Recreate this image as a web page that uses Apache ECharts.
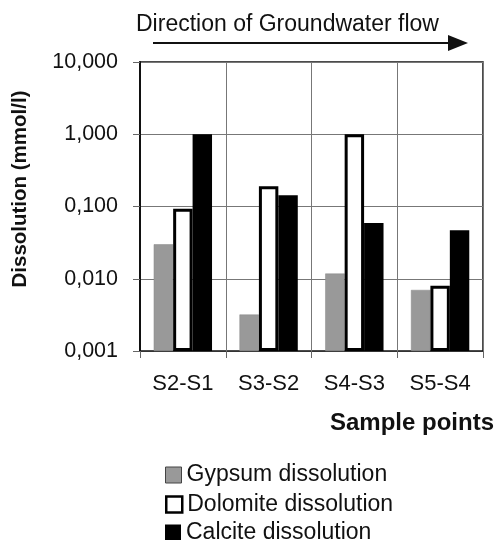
<!DOCTYPE html>
<html>
<head>
<meta charset="utf-8">
<script src="https://cdn.jsdelivr.net/npm/echarts@6/dist/echarts.min.js"></script>
<style>
  html, body { margin: 0; padding: 0; background: #fff; }
</style>
</head>
<body>
<div id="chart" style="width: 499px; height: 540px;"></div>
<script>
// sample point pairs
const categories = ['S2-S1', 'S3-S2', 'S4-S3', 'S5-S4']
// dissolution values (mmol/l)
const gypsum = [0.030, 0.0032, 0.0118, 0.0070]
const dolomite = [0.093, 0.19, 1.0, 0.008]
const calcite = [1.0, 0.143, 0.059, 0.047]

const font = 'Liberation Sans, Arial, sans-serif'
const chart = echarts.init(document.getElementById('chart'))

// one legend per row so the rows keep the spacing of the original
function legendRow(top, item) {
  return {
    orient: 'vertical',
    left: 165,
    top: top,
    padding: 0,
    itemWidth: 16,
    itemHeight: 16,
    icon: 'rect',
    textStyle: { fontSize: 23, lineHeight: 22, color: '#111', fontFamily: font },
    data: [item]
  }
}

const option = {
  animation: false,
  textStyle: { fontFamily: font },
  title: {
    text: 'Direction of Groundwater flow',
    left: 131,
    top: 8,
    textStyle: { fontSize: 23, fontWeight: 'normal', color: '#111', fontFamily: font }
  },
  graphic: [
    // flow arrow
    { type: 'line', shape: { x1: 153, y1: 43, x2: 452, y2: 43 }, style: { stroke: '#111', lineWidth: 2 } },
    { type: 'polygon', shape: { points: [[448, 35], [468, 43], [448, 51]] }, style: { fill: '#111' } },
    // axis titles
    {
      type: 'text', x: 20, y: 189, rotation: Math.PI / 2,
      style: {
        text: 'Dissolution (mmol/l)', font: 'bold 20.5px ' + font, fill: '#111',
        align: 'center', verticalAlign: 'middle'
      }
    },
    {
      type: 'text', x: 330, y: 423,
      style: {
        text: 'Sample points', font: 'bold 24px ' + font, fill: '#111',
        align: 'left', verticalAlign: 'middle'
      }
    }
  ],
  legend: [
    legendRow(463.5, { name: 'Gypsum dissolution', itemStyle: { color: '#999', borderColor: '#444', borderWidth: 1 } }),
    legendRow(493, { name: 'Dolomite dissolution', itemStyle: { color: '#fff', borderColor: '#000', borderWidth: 2.5 } }),
    legendRow(521, { name: 'Calcite dissolution', itemStyle: { color: '#000' } })
  ],
  grid: {
    left: 140,
    right: 16,
    top: 62,
    bottom: 189,
    show: true,
    borderColor: '#111',
    borderWidth: 1.5
  },
  xAxis: {
    type: 'category',
    data: categories,
    axisLine: { lineStyle: { color: '#333', width: 1 } },
    axisTick: { show: true, length: 7, lineStyle: { color: '#666' } },
    axisLabel: { fontSize: 22, color: '#111', margin: 22 },
    splitLine: { show: true, lineStyle: { color: '#777', width: 1 } }
  },
  yAxis: {
    type: 'log',
    logBase: 10,
    min: 0.001,
    max: 10,
    startValue: 0.001,
    axisLine: { show: true, lineStyle: { color: '#111', width: 2 } },
    axisTick: { show: true, length: 7, lineStyle: { color: '#666' } },
    axisLabel: {
      fontSize: 21.5, color: '#111', margin: 22,
      formatter: v => v.toFixed(3).replace('.', ',')
    },
    splitLine: { show: true, lineStyle: { color: '#777', width: 1 } }
  },
  series: [
    {
      name: 'Gypsum dissolution', type: 'bar', data: gypsum,
      barGap: '0%', barCategoryGap: '32%',
      itemStyle: { color: '#999', borderColor: '#888', borderWidth: 0.5 }
    },
    {
      name: 'Dolomite dissolution', type: 'bar', data: dolomite,
      itemStyle: { color: '#fff', borderColor: '#000', borderWidth: 3 }
    },
    {
      name: 'Calcite dissolution', type: 'bar', data: calcite,
      itemStyle: { color: '#000' }
    }
  ]
}

chart.setOption(option)
</script>
</body>
</html>
